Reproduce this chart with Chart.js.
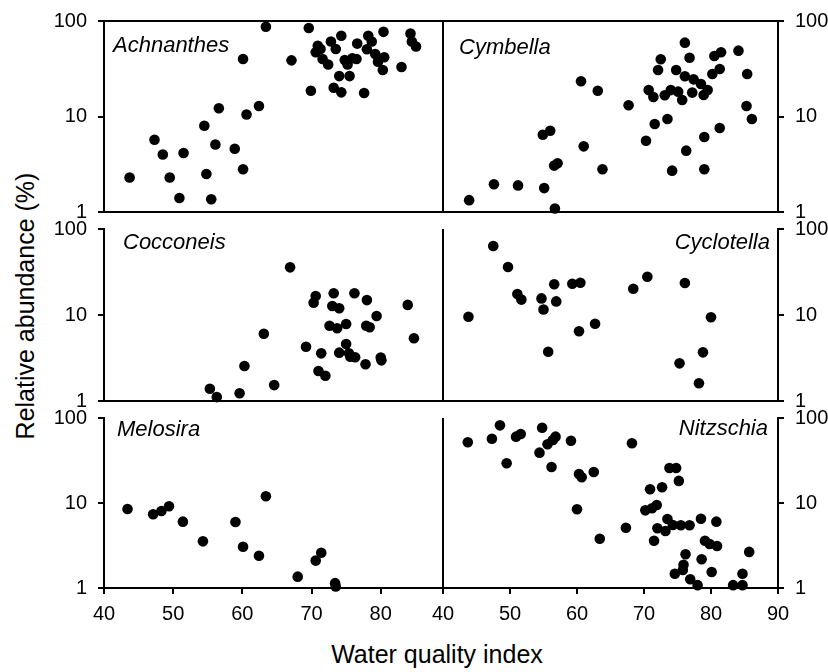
<!DOCTYPE html>
<html>
<head>
<meta charset="utf-8">
<script src="https://cdn.jsdelivr.net/npm/chart.js@4.4.1/dist/chart.umd.min.js"></script>
<style>
    html, body { margin: 0; padding: 0; background: #fff; }
    #figure { position: relative; width: 828px; height: 672px; overflow: hidden; font-family: "Liberation Sans", Arial, sans-serif; color: #000; }
    #figure canvas { position: absolute; }
    .taxon { position: absolute; font-size: 22px; font-style: italic; line-height: 1; white-space: nowrap; }
    .axis-title { position: absolute; font-size: 25px; line-height: 1; white-space: nowrap; }
</style>
</head>
<body>
<div id="figure">
    <div class="axis-title" id="yTitle">Relative abundance (%)</div>
    <div class="axis-title" id="xTitle">Water quality index</div>
</div>
<script>
// tick values
const yTicks = [1, 10, 100];
const xTicksLeft = [40, 50, 60, 70, 80];
const xTicksRight = [40, 50, 60, 70, 80, 90];

// water quality index (x) and relative abundance % (y)
const achnanthesX = [43.7, 47.3, 48.5, 49.5, 50.9, 51.5, 54.5, 54.8, 55.5, 56.1, 56.6, 58.9, 60.1, 60.1, 60.6, 62.4, 63.4, 67.1, 69.6, 69.9,
    70.9, 70.6, 71.3, 71.6, 72.4, 72.8, 73.5, 73.2, 74.3, 74.0, 74.3, 74.8, 75.2, 75.5, 75.9, 76.5, 76.6, 77.6, 78.2, 78.0,
    78.7, 79.2, 79.6, 80.5, 80.3, 80.4, 83.0, 84.3, 84.5, 85.1];
const achnanthesY = [2.3, 5.7, 4.0, 2.3, 1.4, 4.15, 8.0, 2.5, 1.36, 5.1, 12.2, 4.6, 2.8, 40, 10.5, 12.9, 87, 38.7, 84.5, 18.6,
    55, 47, 51, 40, 35, 61, 51, 20, 70, 26.5, 17.9, 39, 35, 26.5, 40.7, 40, 58, 17.6, 70, 50.6,
    61, 45, 37.5, 41.7, 30.7, 77, 33, 74, 61, 54];

const cymbellaX = [43.9, 47.6, 51.2, 55.1, 54.9, 56.0, 56.6, 57.1, 56.7, 60.6, 61.0, 63.1, 63.8, 67.7, 70.3, 70.7, 71.4, 71.6, 72.1, 72.5,
    73.1, 73.5, 74.0, 74.2, 74.8, 75.1, 75.7, 76.1, 76.1, 76.3, 76.8, 77.2, 77.4, 78.5, 78.9, 79.0, 79.0, 79.5, 80.2, 80.5,
    81.3, 81.3, 81.5, 84.1, 85.4, 85.3, 86.1];
const cymbellaY = [1.33, 1.95, 1.9, 1.78, 6.45, 7.1, 3.06, 3.24, 1.09, 23.4, 4.87, 18.6, 2.8, 13.1, 5.58, 18.9, 16, 8.34, 30.7, 39.7,
    16.7, 9.4, 18.9, 2.71, 30.7, 18.2, 14.9, 59.3, 26.4, 4.39, 41.3, 17.8, 24.5, 21.9, 16.8, 6.1, 2.8, 18.9, 27.9, 43,
    31.4, 7.58, 47, 48.9, 27.9, 12.9, 9.4];

const cocconeisX = [55.3, 56.3, 59.6, 60.3, 63.1, 64.6, 66.9, 69.2, 70.3, 70.6, 71.0, 71.4, 72.0, 72.6, 73.0, 73.2, 73.7, 74.0, 74.0, 75.0,
    75.0, 75.4, 75.6, 76.2, 76.3, 77.8, 77.9, 78.0, 78.4, 79.4, 80.0, 80.1, 83.9, 84.8];
const cocconeisY = [1.39, 1.11, 1.23, 2.55, 6.06, 1.53, 35.8, 4.28, 13.9, 16.6, 2.23, 3.58, 1.97, 7.51, 12.7, 17.9, 7.0, 12.0, 3.65, 7.86,
    4.6, 3.58, 3.27, 17.9, 3.22, 2.67, 7.51, 14.9, 7.19, 9.73, 3.2, 2.97, 13.1, 5.36];

const cyclotellaX = [43.8, 47.5, 49.7, 51.1, 51.7, 54.7, 55.0, 55.7, 56.6, 56.9, 59.3, 60.5, 60.3, 62.7, 68.4, 70.5, 75.3, 76.1, 78.2, 78.8, 80.0];
const cyclotellaY = [9.55, 63.4, 36.1, 17.5, 15.1, 15.6, 11.6, 3.74, 22.8, 14.4, 23.1, 23.7, 6.46, 7.92, 20.2, 27.9, 2.74, 23.6, 1.61, 3.68, 9.4];

const melosiraX = [43.4, 47.1, 48.3, 49.4, 51.4, 54.3, 59.0, 60.1, 62.4, 63.4, 68.0, 70.6, 71.4, 73.4, 73.5];
const melosiraY = [8.5, 7.36, 8.05, 9.15, 6.03, 3.54, 5.98, 3.06, 2.4, 12.0, 1.36, 2.1, 2.6, 1.14, 1.04];

const nitzschiaX = [43.7, 47.3, 48.5, 49.5, 50.9, 51.6, 54.8, 54.4, 55.6, 56.2, 56.4, 56.8, 59.1, 60.0, 60.3, 60.7, 62.5, 63.4, 67.3, 68.2,
    70.2, 70.9, 71.2, 71.9, 72.0, 71.5, 72.7, 73.2, 73.5, 73.8, 74.3, 74.8, 75.2, 74.6, 75.5, 75.8, 75.9, 76.2, 76.8, 76.9,
    78.0, 78.5, 78.6, 79.1, 79.8, 80.1, 80.8, 80.9, 83.3, 84.7, 84.7, 85.7];
const nitzschiaY = [51.8, 57.1, 82, 29.3, 60.3, 64.8, 76.9, 39.1, 49.1, 26.5, 55.1, 60.3, 54.1, 8.43, 21.9, 20.1, 23.2, 3.8, 5.12, 50.4,
    8.2, 14.5, 8.66, 9.47, 5.04, 3.6, 15.3, 4.69, 6.49, 25.8, 5.51, 25.8, 18.2, 1.47, 5.47, 1.63, 1.88, 2.49, 5.47, 1.27,
    1.08, 6.54, 2.18, 3.6, 3.29, 1.54, 6.03, 3.12, 1.08, 1.08, 1.47, 2.66];

// plot boxes in page pixels
const cols = [
    {left: 104, right: 443, max: 89, ticks: xTicksLeft, side: 'left'},
    {left: 443, right: 778, max: 90, ticks: xTicksRight, side: 'right'}
];
const rows = [
    {top: 21, bottom: 212},
    {top: 229, bottom: 401},
    {top: 418, bottom: 588}
];

const panels = [
    {name: 'Achnanthes', x: achnanthesX, y: achnanthesY, col: 0, row: 0, label: {left: 113, baseline: 53}, frame: {top: true, right: true}},
    {name: 'Cymbella', x: cymbellaX, y: cymbellaY, col: 1, row: 0, label: {left: 459, baseline: 55}, frame: {top: true, left: true}},
    {name: 'Cocconeis', x: cocconeisX, y: cocconeisY, col: 0, row: 1, label: {left: 123, baseline: 250}, frame: {right: true}},
    {name: 'Cyclotella', x: cyclotellaX, y: cyclotellaY, col: 1, row: 1, label: {right: 770, baseline: 250}, frame: {left: true}},
    {name: 'Melosira', x: melosiraX, y: melosiraY, col: 0, row: 2, label: {left: 117, baseline: 437}, frame: {right: true}},
    {name: 'Nitzschia', x: nitzschiaX, y: nitzschiaY, col: 1, row: 2, label: {right: 768, baseline: 436}, frame: {left: true}}
];

const padX = 60, padTop = 15, padBottom = 40;

Chart.defaults.font.family = '"Liberation Sans", Arial, sans-serif';
Chart.defaults.color = '#000';

// draws the box sides that are not axes
const framePlugin = {
    id: 'frame',
    beforeDatasetsDraw(chart, args, opts) {
        const {ctx, chartArea: a} = chart;
        ctx.save();
        ctx.strokeStyle = '#000';
        ctx.lineWidth = 2;
        ctx.beginPath();
        if (opts.top) { ctx.moveTo(a.left - 1, a.top); ctx.lineTo(a.right + 1, a.top); }
        if (opts.left) { ctx.moveTo(a.left, a.top); ctx.lineTo(a.left, a.bottom); }
        if (opts.right) { ctx.moveTo(a.right, a.top); ctx.lineTo(a.right, a.bottom); }
        ctx.stroke();
        ctx.restore();
    }
};

function fixSize(scale, key, size) {
    scale[key] = size;
    scale.paddingLeft = 0;
    scale.paddingRight = 0;
    scale.paddingTop = 0;
    scale.paddingBottom = 0;
}

function makePanel(p) {
    const figure = document.getElementById('figure');
    const col = cols[p.col], row = rows[p.row];
    const isBottom = p.row === rows.length - 1;
    const w = col.right - col.left + 2 * padX;
    const h = row.bottom - row.top + padTop + padBottom;

    const canvas = document.createElement('canvas');
    canvas.width = w;
    canvas.height = h;
    canvas.style.width = w + 'px';
    canvas.style.height = h + 'px';
    canvas.style.left = (col.left - padX) + 'px';
    canvas.style.top = (row.top - padTop) + 'px';
    figure.appendChild(canvas);

    const label = document.createElement('div');
    label.className = 'taxon';
    label.textContent = p.name;
    label.style.top = (p.label.baseline - 18.6) + 'px';
    if (p.label.left !== undefined) {
        label.style.left = p.label.left + 'px';
    } else {
        label.style.right = (828 - p.label.right) + 'px';
    }
    figure.appendChild(label);

    const points = p.x.map((v, i) => ({x: v, y: p.y[i]}));

    new Chart(canvas, {
        type: 'scatter',
        data: {
            datasets: [{
                data: points,
                backgroundColor: '#000',
                borderColor: '#000',
                borderWidth: 0,
                pointRadius: 5.3,
                pointHoverRadius: 5.3,
                clip: false
            }]
        },
        options: {
            responsive: false,
            animation: false,
            devicePixelRatio: 1,
            events: [],
            layout: {
                padding: {
                    top: padTop,
                    bottom: 0,
                    left: col.side === 'left' ? 0 : padX,
                    right: col.side === 'left' ? padX : 0
                }
            },
            plugins: {
                legend: {display: false},
                tooltip: {enabled: false},
                frame: p.frame
            },
            scales: {
                x: {
                    type: 'linear',
                    position: 'bottom',
                    min: 40,
                    max: col.max,
                    afterBuildTicks: s => { s.ticks = col.ticks.map(v => ({value: v})); },
                    afterFit: s => fixSize(s, 'height', padBottom),
                    grid: {display: isBottom, drawOnChartArea: false, tickLength: 6, color: '#000', lineWidth: 2},
                    border: {display: true, color: '#000', width: 2},
                    ticks: {display: isBottom, padding: 8, maxRotation: 0, autoSkip: false, font: {size: 20}}
                },
                y: {
                    type: 'logarithmic',
                    position: col.side,
                    min: 1,
                    max: 100,
                    afterBuildTicks: s => { s.ticks = yTicks.map(v => ({value: v})); },
                    afterFit: s => fixSize(s, 'width', padX),
                    grid: {drawOnChartArea: false, tickLength: 6, color: '#000', lineWidth: 2},
                    border: {display: true, color: '#000', width: 2},
                    ticks: {padding: 11, font: {size: 20}, callback: v => String(v)}
                }
            }
        },
        plugins: [framePlugin]
    });
}

panels.forEach(makePanel);

const yTitle = document.getElementById('yTitle');
yTitle.style.left = '25px';
yTitle.style.top = '306px';
yTitle.style.transform = 'translate(-50%, -50%) rotate(-90deg)';

const xTitle = document.getElementById('xTitle');
xTitle.style.left = '437px';
xTitle.style.top = '642px';
xTitle.style.transform = 'translateX(-50%)';
</script>
</body>
</html>
